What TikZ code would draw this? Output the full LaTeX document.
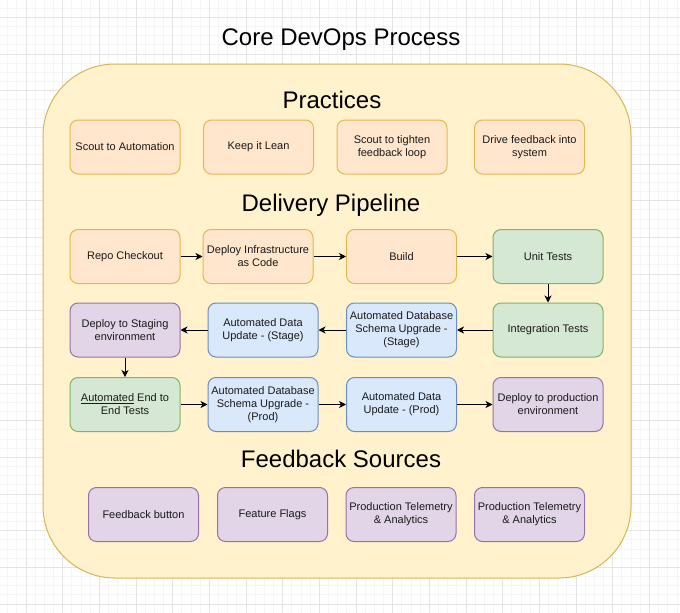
\documentclass[tikz,border=0pt]{standalone}
\usepackage{fontspec}
\setmainfont{Liberation Sans}
\usetikzlibrary{arrows.meta}
\definecolor{contfill}{HTML}{FFF2CC}
\definecolor{contdraw}{HTML}{D6B656}
\definecolor{orfill}{HTML}{FFE6CC}
\definecolor{ordraw}{HTML}{D79B00}
\definecolor{grfill}{HTML}{D5E8D4}
\definecolor{grdraw}{HTML}{82B366}
\definecolor{blfill}{HTML}{DAE8FC}
\definecolor{bldraw}{HTML}{6C8EBF}
\definecolor{pufill}{HTML}{E1D5E7}
\definecolor{pudraw}{HTML}{9673A6}
\definecolor{minorg}{HTML}{F5F5F5}
\definecolor{majorg}{HTML}{E4E4E4}
\definecolor{txt}{HTML}{1A1A1A}
\tikzset{
  box/.style={rounded corners=8pt, line width=1pt, minimum width=110pt, minimum height=54pt,
    inner sep=2pt, align=center, font=\fontsize{11}{13}\selectfont, text=txt},
  orbox/.style={box, fill=orfill, draw=ordraw!70},
  grbox/.style={box, fill=grfill, draw=grdraw},
  blbox/.style={box, fill=blfill, draw=bldraw},
  pubox/.style={box, fill=pufill, draw=pudraw},
  heading/.style={font=\fontsize{24}{28}\selectfont, anchor=base, inner sep=0pt},
  flow/.style={line width=1pt, -{Stealth[length=7pt,width=7pt,inset=2pt]}},
  minorline/.style={minorg, line width=0.8pt},
  majorline/.style={majorg, line width=0.8pt}
}
\begin{document}
\begin{tikzpicture}[x=1pt,y=-1pt]
\useasboundingbox (0,0) rectangle (680,613);
\fill[white] (0,0) rectangle (680,613);
\begin{scope}
\clip (0,0) rectangle (680,613);
\foreach \m in {-3,...,72} \draw[minorline] ({26+9.1675*\m},0) -- ({26+9.1675*\m},613);
\foreach \m in {-2,...,66} \draw[minorline] (0,{17.3+9.1675*\m}) -- (680,{17.3+9.1675*\m});
\foreach \k in {-1,...,18} \draw[majorline] ({26+36.67*\k},0) -- ({26+36.67*\k},613);
\foreach \k in {-1,...,17} \draw[majorline] (0,{17.3+36.67*\k}) -- (680,{17.3+36.67*\k});
\end{scope}

\node[heading] (title) at (341,45) {Core DevOps Process};

\draw[fill=contfill, draw=contdraw, line width=1pt, rounded corners=72pt] (43,64) rectangle (631,578);

\node[heading] (hprac) at (332,108) {Practices};
\node[orbox] (p1) at (125,147) {Scout to Automation};
\node[orbox] (p2) at (258.5,147) {Keep it Lean};
\node[orbox] (p3) at (392,147) {Scout to tighten\\feedback loop};
\node[orbox] (p4) at (529.5,147) {Drive feedback into\\system};

\node[heading] (hpipe) at (331,211) {Delivery Pipeline};
\node[orbox] (r1) at (125,256.5) {Repo Checkout};
\node[orbox] (r2) at (258,256.5) {Deploy Infrastructure\\as Code};
\node[orbox] (r3) at (401.5,256.5) {Build};
\node[grbox] (r4) at (548,256.5) {Unit Tests};

\node[pubox] (s1) at (125,330) {Deploy to Staging\\environment};
\node[blbox] (s2) at (263,330) {Automated Data\\Update - (Stage)};
\node[blbox] (s3) at (401.5,330) {Automated Database\\Schema Upgrade -\\(Stage)};
\node[grbox] (s4) at (548,330) {Integration Tests};

\node[grbox] (e1) at (125,404.5) {\underline{Automated} End to\\End Tests};
\node[blbox] (e2) at (263,404.5) {Automated Database\\Schema Upgrade -\\(Prod)};
\node[blbox] (e3) at (401.5,404.5) {Automated Data\\Update - (Prod)};
\node[pubox] (e4) at (548,404.5) {Deploy to production\\environment};

\node[heading] (hfeed) at (341,467) {Feedback Sources};
\node[pubox] (f1) at (143.5,514.5) {Feedback button};
\node[pubox] (f2) at (272.5,514.5) {Feature Flags};
\node[pubox] (f3) at (401,514.5) {Production Telemetry\\\& Analytics};
\node[pubox] (f4) at (529.5,514.5) {Production Telemetry\\\& Analytics};

\draw[flow] (r1) -- (r2);
\draw[flow] (r2) -- (r3);
\draw[flow] (r3) -- (r4);
\draw[flow] (r4) -- (s4);
\draw[flow] (s4) -- (s3);
\draw[flow] (s3) -- (s2);
\draw[flow] (s2) -- (s1);
\draw[flow] (s1) -- (e1);
\draw[flow] (e1) -- (e2);
\draw[flow] (e2) -- (e3);
\draw[flow] (e3) -- (e4);
\end{tikzpicture}
\end{document}
